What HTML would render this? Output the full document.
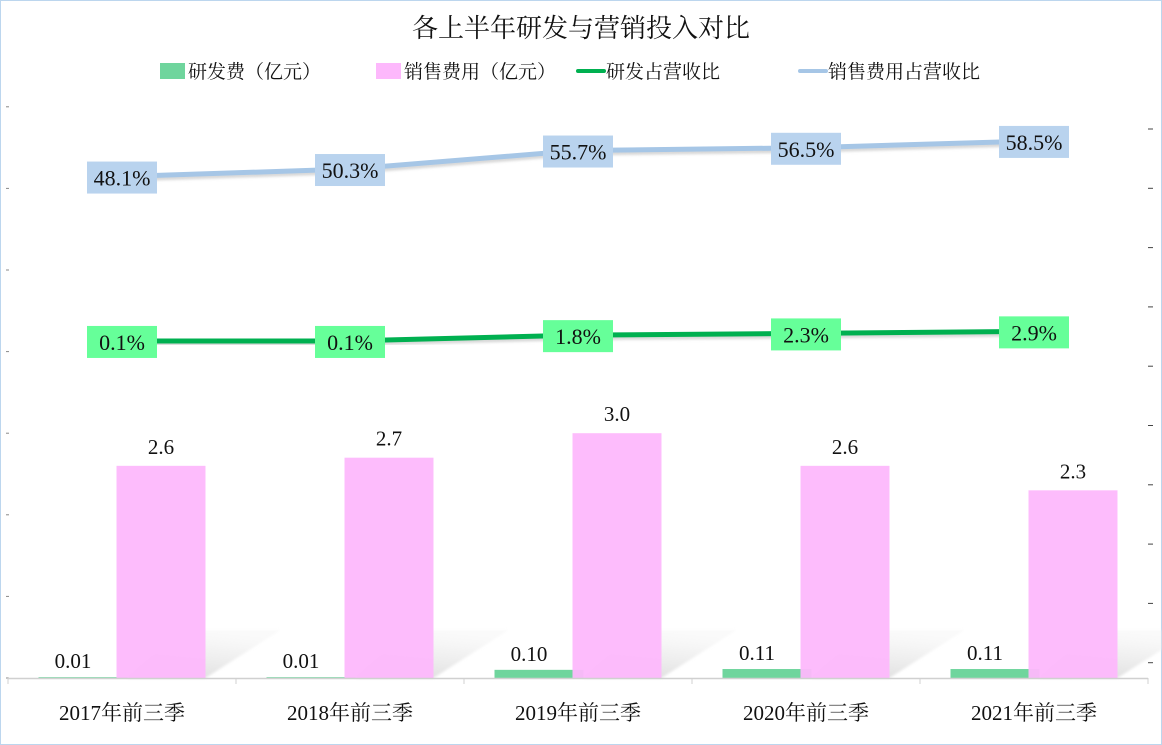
<!DOCTYPE html>
<html><head><meta charset="utf-8"><style>
html,body{margin:0;padding:0;background:#fff}
svg{display:block}
text{font-family:"Liberation Serif","Noto Serif CJK SC","Noto Sans CJK SC",serif}
</style></head><body>
<svg id="chart" width="1162" height="745" xmlns="http://www.w3.org/2000/svg">
<defs>
<linearGradient id="shg" x1="0" y1="1" x2="0.3" y2="0">
<stop offset="0" stop-color="#d8d8d8" stop-opacity="0.9"/>
<stop offset="1" stop-color="#ececec" stop-opacity="0.3"/>
</linearGradient>
<filter id="blur"><feGaussianBlur stdDeviation="1.2"/></filter>
</defs>
<rect x="0.5" y="0.5" width="1161" height="744" fill="#fff" stroke="#bcd6ee"/>
<text x="581" y="37" font-size="26" text-anchor="middle" fill="#111">各上半年研发与营销投入对比</text>
<g id="legend" font-size="19" fill="#111">
<g><rect x="160" y="63" width="25" height="16" fill="#6fd59d"/><text x="188" y="78">研发费（亿元）</text></g>
<g><rect x="376" y="63" width="25" height="16" fill="#fdb8fc"/><text x="404" y="78">销售费用（亿元）</text></g>
<g><line x1="578" y1="71" x2="604" y2="71" stroke="#00b050" stroke-width="4" stroke-linecap="round"/><text x="606" y="78">研发占营收比</text></g>
<g><line x1="800" y1="71" x2="826" y2="71" stroke="#a6c6e6" stroke-width="4" stroke-linecap="round"/><text x="828" y="78">销售费用占营收比</text></g>
</g>
<g id="plot"></g>
</svg>
<script>
const categories = ["2017年前三季","2018年前三季","2019年前三季","2020年前三季","2021年前三季"];
const rdValues = [0.01,0.01,0.10,0.11,0.11];
const salesValues = [2.6,2.7,3.0,2.6,2.3];
const rdRatio = [0.1,0.1,1.8,2.3,2.9];
const salesRatio = [48.1,50.3,55.7,56.5,58.5];
const rdLabels = ["0.01","0.01","0.10","0.11","0.11"];
const salesLabels = ["2.6","2.7","3.0","2.6","2.3"];

const NS="http://www.w3.org/2000/svg";
const plot=document.getElementById('plot');
const left=8,right=1148,base=678;
const step=(right-left)/categories.length;
const xC=i=>left+step*(i+0.5);
const yL=v=>base-v*81.6;          // left axis 0..7
const yR=v=>341.3-v*3.425;        // right axis percent
function mk(tag,attrs,parent){const e=document.createElementNS(NS,tag);for(const k in attrs)e.setAttribute(k,attrs[k]);(parent||plot).appendChild(e);return e;}

// left ticks
for(let k=0;k<=7;k++){const t=mk('line',{x1:left-2,x2:left+1,y1:yL(k),y2:yL(k),stroke:'#888','stroke-width':1});

}
// right ticks
for(let k=0;k<10;k++){const t=mk('line',{x1:right,x2:right+5,y1:129+59.3*k,y2:129+59.3*k,stroke:'#444','stroke-width':1});

}

const bw=89;
categories.forEach((c,i)=>{
  const cx=xC(i);
  const gx=cx-39-bw/2, px=cx+39-bw/2;
  // shadow
  const sh=mk('polygon',{points:`${px+10},${base} ${px+bw},${base} ${px+bw+75},${base-48} ${px+60},${base-48}`,fill:'url(#shg)',filter:'url(#blur)'});
  
  
  const g=mk('rect',{x:gx,y:yL(rdValues[i]),width:bw,height:Math.max(base-yL(rdValues[i]),1),fill:'#6fd59d'});
  
  
  const p=mk('rect',{x:px,y:yL(salesValues[i]),width:bw,height:base-yL(salesValues[i]),fill:'#fdb8fc','fill-opacity':0.95});
  
  
  const tr=mk('text',{x:gx+bw/2-10,y:yL(rdValues[i])-9,'font-size':21,'text-anchor':'middle',fill:'#111'});
  tr.textContent=rdLabels[i];
  
  
  const ts=mk('text',{x:px+bw/2,y:yL(salesValues[i])-12,'font-size':21,'text-anchor':'middle',fill:'#111'});
  ts.textContent=salesLabels[i];
  
  
  const cl=mk('text',{x:cx,y:720,'font-size':21,'text-anchor':'middle',fill:'#111'});
  cl.textContent=c;
  
  
});
// axis
const ax=mk('line',{x1:left,x2:right,y1:base+0.5,y2:base+0.5,stroke:'#d0d0d0','stroke-width':1.5});


for(let k=0;k<=categories.length;k++){const t=mk('line',{x1:left+step*k,x2:left+step*k,y1:base,y2:base+6,stroke:'#d0d0d0'});

}

function line(vals,color,name,boxColor){
  const pts=vals.map((v,i)=>xC(i)+','+yR(v)).join(' ');
  const sh=mk('polyline',{points:vals.map((v,i)=>xC(i)+','+(yR(v)+3)).join(' '),fill:'none',stroke:'#bbb','stroke-width':4,filter:'url(#blur)','stroke-opacity':0.6});
  
  
  const l=mk('polyline',{points:pts,fill:'none',stroke:color,'stroke-width':5});
  
  
  vals.forEach((v,i)=>{
    const b=mk('rect',{x:xC(i)-35,y:yR(v)-15,width:70,height:32,fill:boxColor});
    
    
    const t=mk('text',{x:xC(i),y:yR(v)+9,'font-size':22,'text-anchor':'middle',fill:'#111'});
    t.textContent=v.toFixed(1)+'%';
    
    
  });
}
line(salesRatio,'#a6c6e6','sales-ratio-line','#b9d3ee');
line(rdRatio,'#00b050','rd-ratio-line','#66ff99');
</script>
</body></html>
